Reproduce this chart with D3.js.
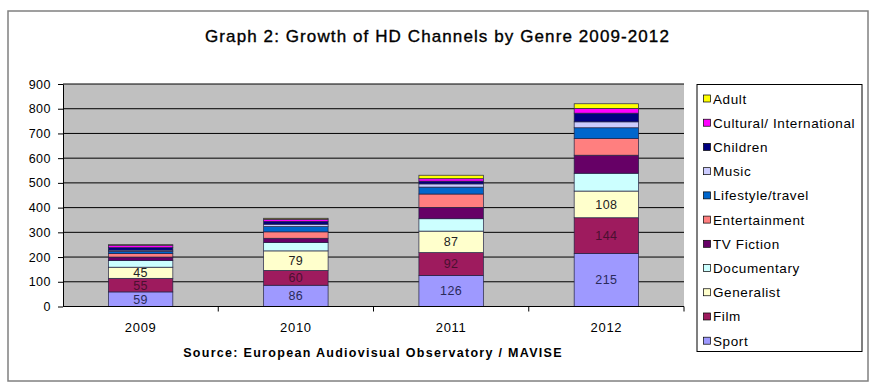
<!DOCTYPE html>
<html><head><meta charset="utf-8">
<script src="https://cdn.jsdelivr.net/npm/d3@7"></script>
<style>body{margin:0;background:#fff}svg{display:block;font-family:"Liberation Sans",Arial,sans-serif}</style>
</head><body><svg id="c" width="877" height="390"></svg>
<script>
const years = ["2009","2010","2011","2012"];
const genres = ["Sport","Film","Generalist","Documentary","TV Fiction","Entertainment","Lifestyle/travel","Music","Children","Cultural/ International","Adult"];
const sport         = [59, 86, 126, 215];
const film          = [55, 60, 92, 144];
const generalist    = [45, 79, 87, 108];
const documentary   = [27, 34, 50, 72];
const tvFiction     = [14, 17, 46, 73];
const entertainment = [14, 26, 54, 67];
const lifestyle     = [9, 21, 28, 44];
const music         = [5, 10, 13, 24];
const children      = [10, 11, 11, 35];
const cultural      = [10, 9, 10, 19];
const adult         = [2, 4, 14, 19];
const yTicks = [0,100,200,300,400,500,600,700,800,900];
const colors = ["#9E99FF","#9E1B5E","#FFFFCC","#CCFFFF","#660066","#FF7F7F","#0066CC","#CCCCFF","#000080","#FF00FF","#FFFF00"];
const labelColors = ["#2a2a5a","#4a1030","#222222"];

const seriesVals = [sport,film,generalist,documentary,tvFiction,entertainment,lifestyle,music,children,cultural,adult];
const table = years.map((y,i)=>{const o={year:y}; genres.forEach((g,k)=>o[g]=seriesVals[k][i]); return o;});
const stack = d3.stack().keys(genres)(table);

const svg = d3.select("#c");
svg.append("rect").attr("x",8).attr("y",11).attr("width",860).attr("height",370)
  .attr("fill","#fff").attr("stroke","#808080").attr("stroke-width",1.5);

svg.append("text").attr("x",437.5).attr("y",41.5).attr("text-anchor","middle")
  .attr("font-size",17).attr("letter-spacing",1.1).attr("stroke","#000").attr("stroke-width",0.35)
  .text("Graph 2: Growth of HD Channels by Genre 2009-2012");

const L=63,R=684,T=84,B=306.5;
const x = d3.scaleBand().domain(years).range([L,R]).paddingInner(0.585).paddingOuter(0.2925);
const y = d3.scaleLinear().domain([0,900]).range([B,T]);

svg.append("rect").attr("x",L).attr("y",T).attr("width",R-L).attr("height",B-T).attr("fill","#C0C0C0");
svg.append("g").selectAll("line").data(yTicks.slice(1)).join("line")
  .attr("x1",L).attr("x2",R).attr("y1",d=>y(d)).attr("y2",d=>y(d)).attr("stroke","#000").attr("stroke-width",1);

const g = svg.append("g");
stack.forEach((s,k)=>{
  g.selectAll(null).data(s).join("rect")
    .attr("x",d=>x(d.data.year)).attr("width",x.bandwidth())
    .attr("y",d=>y(d[1])).attr("height",d=>y(d[0])-y(d[1]))
    .attr("fill",colors[k]).attr("stroke","#222244").attr("stroke-width",0.7);
});
stack.slice(0,3).forEach((s,k)=>{
  g.selectAll(null).data(s).join("text")
    .attr("x",d=>x(d.data.year)+x.bandwidth()/2).attr("y",d=>(y(d[0])+y(d[1]))/2+4.5)
    .attr("text-anchor","middle").attr("font-size",12.5).attr("letter-spacing",0.4).attr("fill",labelColors[k])
    .text(d=>d[1]-d[0]);
});

const ya = svg.append("g").attr("transform",`translate(${L},0)`)
  .call(d3.axisLeft(y).tickValues(yTicks).tickSize(5).tickPadding(7).tickSizeOuter(0));
ya.select(".domain").attr("stroke","#000");
ya.selectAll("text").attr("font-size",12.5).attr("letter-spacing",0.5).attr("fill","#000").attr("font-family","Liberation Sans, Arial");

const xa = svg.append("g").attr("transform",`translate(0,${B})`)
  .call(d3.axisBottom(x).tickSize(0).tickPadding(16));
xa.select(".domain").attr("stroke","#000").attr("d",`M${L},0H${R}`);
xa.selectAll("text").attr("font-size",13).attr("letter-spacing",0.7).attr("fill","#000").attr("font-family","Liberation Sans, Arial");
xa.append("g").selectAll("line").data(years).join("line")
  .attr("x1",d=>x(d)-x.step()*x.paddingOuter()+x.step()).attr("x2",d=>x(d)-x.step()*x.paddingOuter()+x.step())
  .attr("y1",0).attr("y2",5).attr("stroke","#000");

svg.append("text").attr("x",373).attr("y",357).attr("text-anchor","middle")
  .attr("font-size",12.5).attr("font-weight","bold").attr("letter-spacing",1.3).text("Source: European Audiovisual Observatory / MAVISE");

const lg = svg.append("g");
lg.append("rect").attr("x",697).attr("y",84.5).attr("width",165).attr("height",267).attr("fill","#fff").attr("stroke","#000").attr("stroke-width",1);
const order = genres.slice().reverse();
const ly = d3.scalePoint().domain(order).range([98.5,340.7]);
lg.selectAll("rect.sw").data(order).join("rect").attr("class","sw")
  .attr("x",703.5).attr("y",d=>ly(d)-3.5).attr("width",7).attr("height",7)
  .attr("fill",d=>colors[genres.indexOf(d)]).attr("stroke","#000").attr("stroke-width",0.7);
lg.selectAll("text").data(order).join("text")
  .attr("x",713).attr("y",d=>ly(d)+5).attr("font-size",13.5).attr("letter-spacing",0.6).text(d=>d);
</script></body></html>
